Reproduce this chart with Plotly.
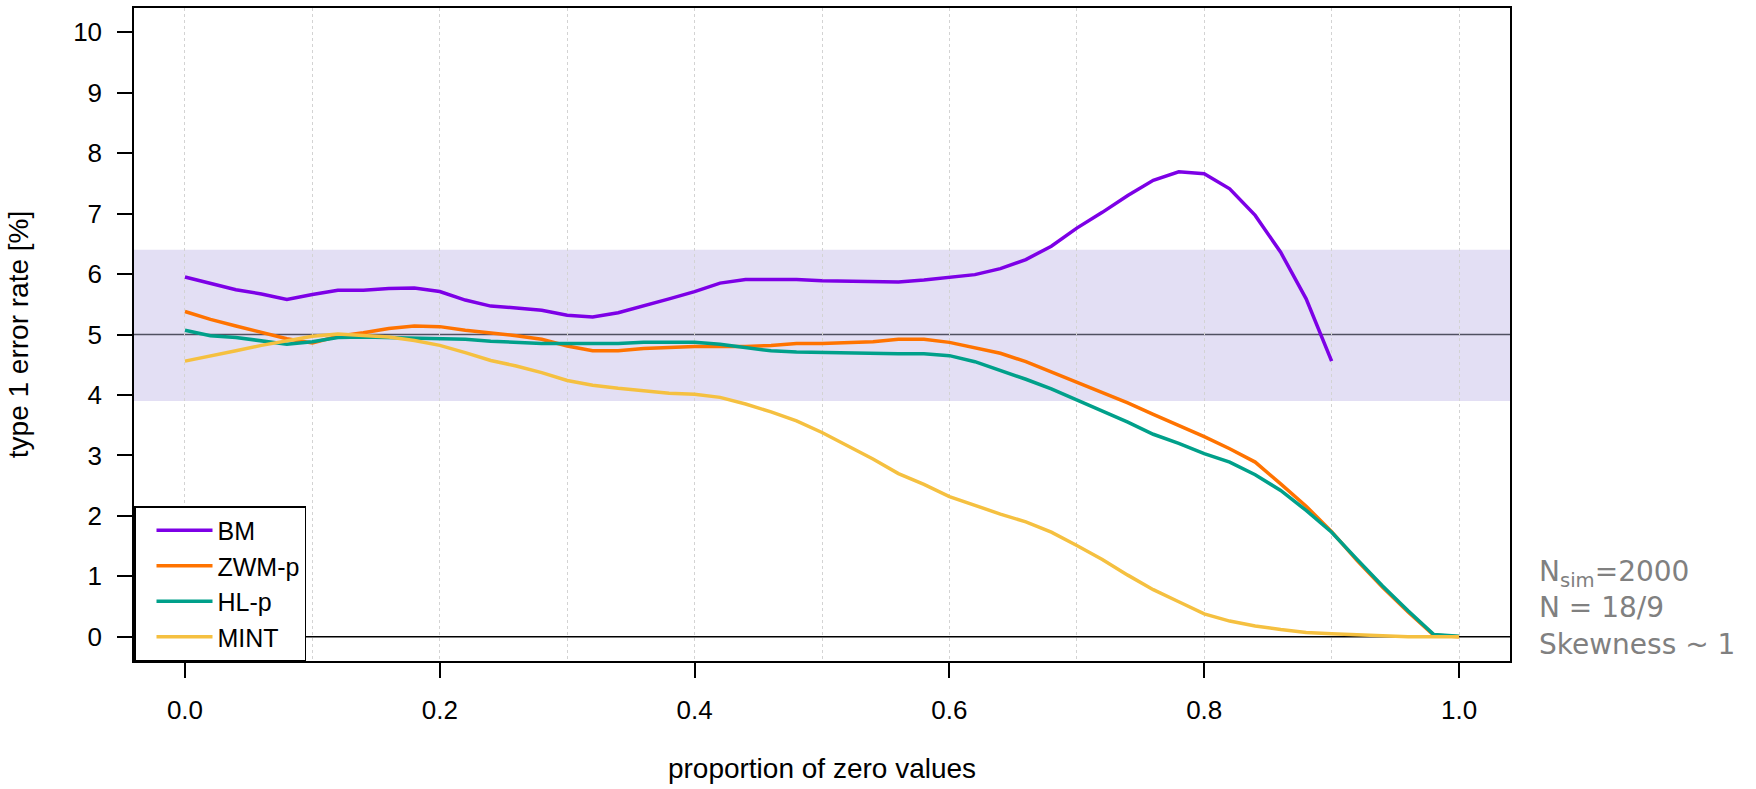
import plotly.graph_objects as go

# proportion of zero values (simulation grid)
prop_zero = [0.00, 0.02, 0.04, 0.06, 0.08, 0.10, 0.12, 0.14, 0.16, 0.18,
             0.20, 0.22, 0.24, 0.26, 0.28, 0.30, 0.32, 0.34, 0.36, 0.38,
             0.40, 0.42, 0.44, 0.46, 0.48, 0.50, 0.52, 0.54, 0.56, 0.58,
             0.60, 0.62, 0.64, 0.66, 0.68, 0.70, 0.72, 0.74, 0.76, 0.78,
             0.80, 0.82, 0.84, 0.86, 0.88, 0.90, 0.92, 0.94, 0.96, 0.98,
             1.00]

# type 1 error rates [%]
bm = [5.95, 5.84, 5.74, 5.67, 5.58, 5.66, 5.73, 5.73, 5.76, 5.77,
      5.71, 5.57, 5.47, 5.44, 5.40, 5.32, 5.29, 5.36, 5.47, 5.59,
      5.71, 5.85, 5.91, 5.91, 5.91, 5.89, 5.88, 5.87, 5.87, 5.90,
      5.95, 5.99, 6.09, 6.24, 6.46, 6.76, 7.02, 7.30, 7.55, 7.69,
      7.66, 7.41, 6.97, 6.36, 5.59, 4.56, None, None, None, None,
      None]
zwm_p = [5.38, 5.25, 5.14, 5.04, 4.93, 4.86, 4.97, 5.03, 5.10, 5.14,
         5.13, 5.07, 5.03, 4.98, 4.92, 4.81, 4.73, 4.73, 4.77, 4.79,
         4.80, 4.80, 4.80, 4.82, 4.85, 4.85, 4.86, 4.88, 4.92, 4.92,
         4.87, 4.78, 4.69, 4.55, 4.38, 4.22, 4.04, 3.87, 3.68, 3.50,
         3.31, 3.11, 2.89, 2.53, 2.16, 1.74, 1.26, 0.82, 0.41, 0.03,
         0.00]
hl_p = [5.07, 4.98, 4.95, 4.90, 4.84, 4.88, 4.95, 4.96, 4.95, 4.93,
        4.93, 4.92, 4.89, 4.87, 4.85, 4.85, 4.85, 4.85, 4.87, 4.87,
        4.87, 4.84, 4.78, 4.73, 4.71, 4.70, 4.69, 4.68, 4.68, 4.68,
        4.65, 4.55, 4.41, 4.26, 4.10, 3.92, 3.73, 3.55, 3.35, 3.20,
        3.03, 2.89, 2.68, 2.42, 2.09, 1.73, 1.28, 0.84, 0.43, 0.04,
        0.01]
mint = [4.56, 4.64, 4.73, 4.82, 4.90, 4.97, 5.01, 4.99, 4.96, 4.90,
        4.82, 4.70, 4.57, 4.48, 4.37, 4.24, 4.16, 4.11, 4.07, 4.03,
        4.01, 3.96, 3.85, 3.72, 3.57, 3.38, 3.16, 2.94, 2.70, 2.52,
        2.32, 2.17, 2.03, 1.90, 1.73, 1.51, 1.28, 1.02, 0.78, 0.58,
        0.38, 0.26, 0.18, 0.12, 0.07, 0.05, 0.03, 0.01, 0.00, 0.00,
        0.00]

series = [
    ("BM", bm, "#7D00E6"),
    ("ZWM-p", zwm_p, "#FF7300"),
    ("HL-p", hl_p, "#00A08A"),
    ("MINT", mint, "#F5C040"),
]

nominal_alpha = 5
band_low, band_high = 3.9, 6.4

x_ticks = [0.0, 0.2, 0.4, 0.6, 0.8, 1.0]
x_ticklabels = ["0.0", "0.2", "0.4", "0.6", "0.8", "1.0"]
y_ticks = [0, 1, 2, 3, 4, 5, 6, 7, 8, 9, 10]

fig = go.Figure()
for name, vals, col in series:
    fig.add_trace(go.Scatter(
        x=prop_zero, y=vals, name=name, mode="lines",
        line=dict(color=col, width=3.5),
        connectgaps=False,
    ))

# tolerance band around the nominal level
fig.add_shape(type="rect", xref="paper", yref="y", x0=0, x1=1,
              y0=band_low, y1=band_high, fillcolor="#E3DFF4",
              line=dict(width=0), layer="below")
# nominal level and zero reference lines
fig.add_shape(type="line", xref="paper", yref="y", x0=0, x1=1,
              y0=nominal_alpha, y1=nominal_alpha,
              line=dict(color="#505060", width=1.5), layer="between")
fig.add_shape(type="line", xref="paper", yref="y", x0=0, x1=1,
              y0=0, y1=0, line=dict(color="black", width=1.5), layer="between")

fig.add_annotation(
    xref="paper", yref="paper", x=1.0196, y=0.081,
    xanchor="left", yanchor="middle", align="left", showarrow=False,
    text="N<sub>sim</sub>=2000<br>N = 18/9<br>Skewness ~ 1",
    font=dict(family="DejaVu Sans", size=28, color="#808080"),
)

axis_font = dict(family="Liberation Sans", size=26, color="black")
title_font = dict(family="Liberation Sans", size=28, color="black")

fig.update_layout(
    width=1756, height=789,
    margin=dict(l=134, r=246, t=6, b=128),
    paper_bgcolor="white", plot_bgcolor="white",
    font=dict(family="Liberation Sans", color="black"),
    showlegend=True,
    legend=dict(
        x=0, y=0, xanchor="left", yanchor="bottom",
        bgcolor="white", bordercolor="black", borderwidth=1.5,
        font=dict(family="Liberation Sans", size=25, color="black"),
        itemwidth=56, tracegroupgap=0, indentation=16,
    ),
    xaxis=dict(
        range=[-0.04, 1.04], tickvals=x_ticks, ticktext=x_ticklabels,
        ticks="outside", ticklen=15, tickwidth=1.5, tickcolor="black",
        tickfont=axis_font, ticklabelstandoff=10,
        showline=True, linecolor="black", linewidth=1.5, mirror=True,
        showgrid=True, gridcolor="#D3D3D3", griddash="3px,3px", gridwidth=1,
        minor=dict(dtick=0.1, tick0=0, showgrid=True, gridcolor="#D3D3D3",
                   griddash="3px,3px", gridwidth=1, ticks=""),
        zeroline=False,
        title=dict(text="proportion of zero values", font=title_font,
                   standoff=34),
    ),
    yaxis=dict(
        range=[-0.4, 10.4], tickvals=y_ticks,
        ticks="outside", ticklen=15, tickwidth=1.5, tickcolor="black",
        tickfont=axis_font, ticklabelstandoff=10,
        showline=True, linecolor="black", linewidth=1.5, mirror=True,
        showgrid=False, zeroline=False,
        title=dict(text="type 1 error rate [%]", font=title_font,
                   standoff=36),
    ),
)

fig.write_html("out.html")
